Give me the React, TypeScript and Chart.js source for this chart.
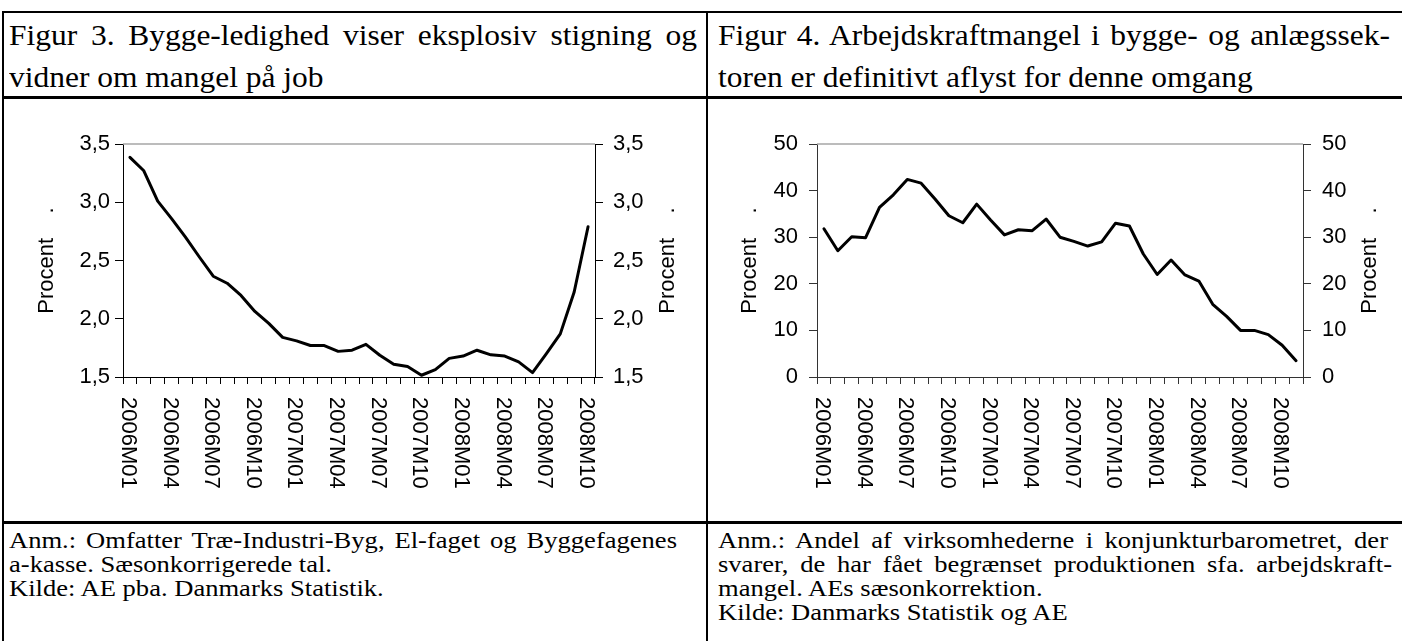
import React, { useEffect, useRef } from 'react';
import { Chart, registerables } from 'chart.js';

Chart.register(...registerables);

const months1 = [
  '2006M01', '2006M02', '2006M03', '2006M04', '2006M05', '2006M06', '2006M07', '2006M08', '2006M09', '2006M10', '2006M11', '2006M12',
  '2007M01', '2007M02', '2007M03', '2007M04', '2007M05', '2007M06', '2007M07', '2007M08', '2007M09', '2007M10', '2007M11', '2007M12',
  '2008M01', '2008M02', '2008M03', '2008M04', '2008M05', '2008M06', '2008M07', '2008M08', '2008M09', '2008M10',
];
const months2 = [
  '2006M01', '2006M02', '2006M03', '2006M04', '2006M05', '2006M06', '2006M07', '2006M08', '2006M09', '2006M10', '2006M11', '2006M12',
  '2007M01', '2007M02', '2007M03', '2007M04', '2007M05', '2007M06', '2007M07', '2007M08', '2007M09', '2007M10', '2007M11', '2007M12',
  '2008M01', '2008M02', '2008M03', '2008M04', '2008M05', '2008M06', '2008M07', '2008M08', '2008M09', '2008M10', '2008M11',
];
const tickLabels = [
  '2006M01', '2006M04', '2006M07', '2006M10', '2007M01', '2007M04',
  '2007M07', '2007M10', '2008M01', '2008M04', '2008M07', '2008M10',
];
// Figur 3: bygge-ledighed (procent)
const ledighed = [
  3.385, 3.27, 3.01, 2.86, 2.70, 2.53, 2.365, 2.305, 2.20, 2.063, 1.96, 1.84,
  1.81, 1.77, 1.77, 1.72, 1.73, 1.78, 1.687, 1.61, 1.59, 1.515, 1.563, 1.66,
  1.68, 1.73, 1.69, 1.68, 1.63, 1.537, 1.70, 1.87, 2.23, 2.79,
];
// Figur 4: arbejdskraftmangel (procent)
const mangel = [
  31.8, 27.1, 30.1, 29.9, 36.4, 39.1, 42.4, 41.6, 38.2, 34.6, 33.1, 37.1,
  33.7, 30.5, 31.6, 31.4, 33.9, 30.0, 29.1, 28.1, 29.0, 33.0, 32.4, 26.4,
  22.0, 25.1, 21.9, 20.6, 15.6, 13.0, 10.0, 10.0, 9.1, 6.8, 3.5,
];
const yRange1 = { min: 1.5, max: 3.5, step: 0.5, decimals: 1 };
const yRange2 = { min: 0, max: 50, step: 10, decimals: 0 };
const yTitle = 'Procent    .';

const title1 = ['Figur 3. Bygge-ledighed viser eksplosiv stigning og', 'vidner om mangel på job'];
const title2 = ['Figur 4. Arbejdskraftmangel i bygge- og anlægssek-', 'toren er definitivt aflyst for denne omgang'];
const notes1 = [
  'Anm.: Omfatter Træ-Industri-Byg, El-faget og Byggefagenes',
  'a-kasse. Sæsonkorrigerede tal.',
  'Kilde: AE pba. Danmarks Statistik.',
];
const notes2 = [
  'Anm.: Andel af virksomhederne i konjunkturbarometret, der',
  'svarer, de har fået begrænset produktionen sfa. arbejdskraft-',
  'mangel. AEs sæsonkorrektion.',
  'Kilde: Danmarks Statistik og AE',
];

const SANS = '"Liberation Sans", Arial, Helvetica, sans-serif';
const SERIF = '"Liberation Serif", "Times New Roman", Times, serif';
const FS = 22;

type Cfg = {
  labels: string[];
  values: number[];
  range: { min: number; max: number; step: number; decimals: number };
  width: number;
  height: number;
  leftW: number;
  rightW: number;
  leftPad: number;
  rightPad: number;
  leftTitleX: number;
  rightTitleX: number;
  axisColor: string;
};

const TOP_PAD = 45;
const X_H = 144;

function LineChart({ cfg }: { cfg: Cfg }) {
  const ref = useRef<HTMLCanvasElement>(null);
  useEffect(() => {
    if (!ref.current) return;
    const fmt = (v: number | string) => Number(v).toFixed(cfg.range.decimals).replace('.', ',');
    const font = { family: SANS, size: FS };
    const decor = {
      id: 'decor',
      afterDraw(chart: any) {
        const { ctx, chartArea: a } = chart;
        const xs = chart.scales.x;
        ctx.save();
        ctx.strokeStyle = '#a6a6a6';
        ctx.lineWidth = 1.5;
        ctx.beginPath();
        ctx.moveTo(a.left, a.top);
        ctx.lineTo(a.right, a.top);
        ctx.stroke();
        ctx.fillStyle = '#000';
        ctx.font = `${FS}px ${SANS}`;
        ctx.textBaseline = 'middle';
        ctx.textAlign = 'left';
        cfg.labels.forEach((lab, i) => {
          if (!tickLabels.includes(lab)) return;
          const x = xs.getPixelForValue(i) - 2;
          ctx.save();
          ctx.translate(x, a.bottom + 20);
          ctx.rotate(Math.PI / 2);
          ctx.fillText(lab, 0, 0);
          ctx.restore();
        });
        const mid = (a.top + a.bottom) / 2;
        ctx.textAlign = 'center';
        for (const x of [a.left + cfg.leftTitleX, a.right + cfg.rightTitleX]) {
          ctx.save();
          ctx.translate(x, mid);
          ctx.rotate(-Math.PI / 2);
          ctx.fillText(yTitle, 0, 0);
          ctx.restore();
        }
        ctx.restore();
      },
    };
    const yCommon = (pad: number) => ({
      min: cfg.range.min,
      max: cfg.range.max,
      ticks: { stepSize: cfg.range.step, callback: fmt, font, color: '#000', padding: pad },
      grid: { drawOnChartArea: false, drawTicks: true, tickLength: 8, color: cfg.axisColor, lineWidth: 1 },
      border: { display: true, color: cfg.axisColor, width: 1 },
    });
    const chart = new Chart(ref.current, {
      type: 'line',
      data: {
        labels: cfg.labels,
        datasets: [
          {
            data: cfg.values,
            borderColor: '#000',
            borderWidth: 3,
            pointRadius: 0,
            tension: 0,
            fill: false,
            yAxisID: 'y',
            borderJoinStyle: 'round',
            borderCapStyle: 'round',
          },
        ],
      },
      options: {
        animation: false,
        responsive: false,
        maintainAspectRatio: false,
        layout: { padding: { top: TOP_PAD, left: 0, right: 0, bottom: 0 } },
        plugins: { legend: { display: false }, tooltip: { enabled: false } },
        scales: {
          x: {
            type: 'category',
            offset: true,
            grid: { offset: true, drawOnChartArea: false, drawTicks: true, tickLength: 7, color: cfg.axisColor, lineWidth: 1 },
            border: { display: true, color: cfg.axisColor, width: 1 },
            ticks: { display: false, autoSkip: false },
            afterFit: (s: any) => {
              s.height = X_H;
            },
          },
          y: {
            position: 'left',
            ...yCommon(cfg.leftPad),
            afterFit: (s: any) => {
              s.width = cfg.leftW;
            },
          },
          y2: {
            position: 'right',
            ...yCommon(cfg.rightPad),
            afterFit: (s: any) => {
              s.width = cfg.rightW;
            },
          },
        },
      } as any,
      plugins: [decor],
    });
    return () => chart.destroy();
  }, [cfg]);
  return <canvas ref={ref} width={cfg.width} height={cfg.height} style={{ display: 'block', width: cfg.width, height: cfg.height }} />;
}

const cfg1: Cfg = {
  labels: months1,
  values: ledighed,
  range: yRange1,
  width: 702,
  height: 422,
  leftW: 119,
  rightW: 111,
  leftPad: 5,
  rightPad: 10,
  leftTitleX: -76.5,
  rightTitleX: 73,
  axisColor: '#000',
};
const cfg2: Cfg = {
  labels: months2,
  values: mangel,
  range: yRange2,
  width: 694,
  height: 422,
  leftW: 109,
  rightW: 99,
  leftPad: 11,
  rightPad: 11,
  leftTitleX: -67.5,
  rightTitleX: 67,
  axisColor: '#333',
};

const abs = (s: React.CSSProperties): React.CSSProperties => ({ position: 'absolute', ...s });

function TLine({ text, width, justify, sx }: { text: string; width?: number; justify?: boolean; sx: number }) {
  const style: React.CSSProperties = {
    whiteSpace: justify ? 'normal' : 'nowrap',
    transform: `scaleX(${sx})`,
    transformOrigin: '0 0',
  };
  if (justify && width) {
    style.width = width / sx;
    style.textAlign = 'justify';
    (style as any).textAlignLast = 'justify';
  }
  return <div style={style}>{text}</div>;
}

const TSX = 1.085;
const NSX = 1.13;

export default function App() {
  useEffect(() => {
    document.body.style.margin = '0';
  }, []);
  const titleStyle: React.CSSProperties = { fontFamily: SERIF, fontSize: 29, lineHeight: '42px', color: '#000' };
  const noteStyle: React.CSSProperties = { fontFamily: SERIF, fontSize: 23.5, lineHeight: '24px', color: '#000' };
  return (
    <div style={{ position: 'relative', width: 1402, height: 641, overflow: 'hidden', background: '#fff' }}>
      <div style={abs({ left: 2, top: 11, width: 1400, height: 2, background: '#000' })} />
      <div style={abs({ left: 2, top: 11, width: 2, height: 630, background: '#000' })} />
      <div style={abs({ left: 706, top: 11, width: 2, height: 630, background: '#000' })} />
      <div style={abs({ left: 2, top: 96, width: 1400, height: 3, background: '#000' })} />
      <div style={abs({ left: 2, top: 521, width: 1400, height: 3, background: '#000' })} />

      <div style={abs({ left: 9, top: 14, width: 692, ...titleStyle })}>
        <TLine text={title1[0]} width={688} justify sx={TSX} />
        <TLine text={title1[1]} sx={TSX} />
      </div>
      <div style={abs({ left: 718, top: 14, width: 682, ...titleStyle })}>
        <TLine text={title2[0]} width={672} justify sx={TSX} />
        <TLine text={title2[1]} sx={TSX} />
      </div>

      <div style={abs({ left: 4, top: 99 })}>
        <LineChart cfg={cfg1} />
      </div>
      <div style={abs({ left: 708, top: 99 })}>
        <LineChart cfg={cfg2} />
      </div>

      <div style={abs({ left: 9, top: 528, width: 692, ...noteStyle })}>
        <TLine text={notes1[0]} width={668} justify sx={NSX} />
        <TLine text={notes1[1]} sx={NSX} />
        <TLine text={notes1[2]} sx={NSX} />
      </div>
      <div style={abs({ left: 718, top: 528, width: 682, ...noteStyle })}>
        <TLine text={notes2[0]} width={670} justify sx={NSX} />
        <TLine text={notes2[1]} width={674} justify sx={NSX} />
        <TLine text={notes2[2]} sx={NSX} />
        <TLine text={notes2[3]} sx={NSX} />
      </div>
    </div>
  );
}
